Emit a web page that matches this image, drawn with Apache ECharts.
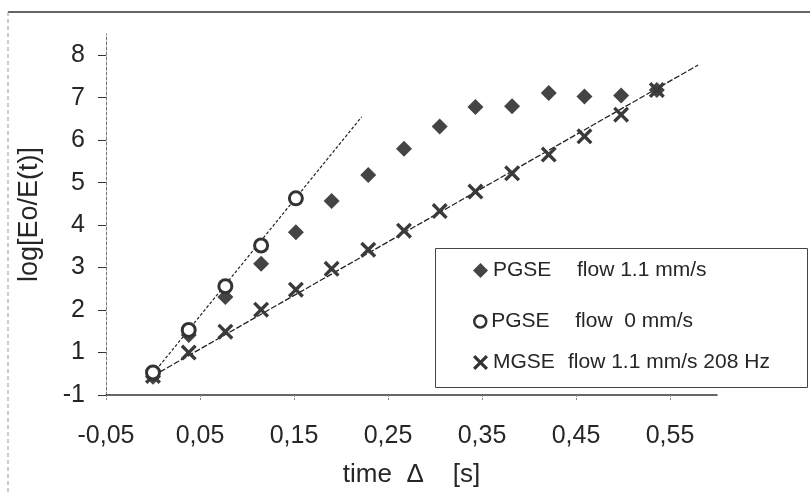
<!DOCTYPE html>
<html>
<head>
<meta charset="utf-8">
<script src="https://cdn.jsdelivr.net/npm/echarts@6/dist/echarts.min.js"></script>
<style>
  html, body { margin: 0; padding: 0; background: #fff; }
  #chart { width: 810px; height: 493px; }
</style>
</head>
<body>
<div id="chart"></div>
<script>
// Echo attenuation versus diffusion time Δ
const deltaTimes      = [0, 0.038, 0.077, 0.115, 0.152, 0.190, 0.229, 0.267, 0.305, 0.343, 0.382, 0.421, 0.459, 0.498, 0.536];
const pgseFlowValues  = [0.43, 1.41, 2.31, 3.09, 3.83, 4.57, 5.18, 5.80, 6.32, 6.78, 6.80, 7.11, 7.03, 7.05, 7.18];
const pgseStillTimes  = [0, 0.038, 0.077, 0.115, 0.152];
const pgseStillValues = [0.53, 1.53, 2.56, 3.52, 4.63];
const mgseValues      = [0.45, 1.00, 1.49, 2.01, 2.48, 2.97, 3.42, 3.87, 4.33, 4.79, 5.22, 5.66, 6.09, 6.60, 7.18];

// straight-line fits (end points)
const fitStill = [[0, 0.50], [0.222, 6.55]];
const fitMgse  = [[0, 0.45], [0.580, 7.77]];

const xTickValues = [-0.05, 0.05, 0.15, 0.25, 0.35, 0.45, 0.55];
const xTickLabels = ['-0,05', '0,05', '0,15', '0,25', '0,35', '0,45', '0,55'];
const yTickValues = [0, 1, 2, 3, 4, 5, 6, 7, 8];
const yTickLabels = ['-1', '1', '2', '3', '4', '5', '6', '7', '8'];

const seriesNames = ['PGSE flow 1.1 mm/s', 'PGSE flow  0 mm/s', 'MGSE flow 1.1 mm/s 208 Hz'];

const FONT = "'Liberation Sans', Arial, sans-serif";
const INK = '#262626';
const MARK = '#444';
const CROSS = 'path://M0,1.5 L1.5,0 L5,3.5 L8.5,0 L10,1.5 L6.5,5 L10,8.5 L8.5,10 L5,6.5 L1.5,10 L0,8.5 L3.5,5 Z';

const zip = (xs, ys) => xs.map((x, i) => [x, ys[i]]);

function legendRow(name, top, icon, size, itemStyle, labelWidth) {
  return {
    show: true,
    orient: 'vertical',
    left: 473,
    top: top,
    padding: 0,
    itemWidth: size,
    itemHeight: size,
    selectedMode: false,
    data: [{ name: name, icon: icon, itemStyle: itemStyle }],
    formatter: function (n) {
      const k = n.indexOf(' ');
      return '{a|' + n.slice(0, k) + '}{b|' + n.slice(k + 1) + '}';
    },
    textStyle: {
      fontFamily: FONT,
      fontSize: 21,
      color: INK,
      rich: {
        a: { fontFamily: FONT, fontSize: 21, color: INK, width: labelWidth },
        b: { fontFamily: FONT, fontSize: 21, color: INK }
      }
    }
  };
}

const chart = echarts.init(document.getElementById('chart'), null, { renderer: 'canvas' });

chart.setOption({
  animation: false,
  backgroundColor: '#fff',
  grid: { left: 106, right: 93, top: 34, bottom: 96, containLabel: false },
  xAxis: {
    type: 'value',
    min: -0.05,
    max: 0.6,
    name: 'time  Δ    [s]',
    nameLocation: 'middle',
    nameGap: 67,
    nameTextStyle: { fontFamily: FONT, fontSize: 26, color: INK },
    axisLine: { show: true, onZero: false, lineStyle: { color: '#333', width: 1.5 } },
    axisTick: { show: true, length: 6, customValues: xTickValues, lineStyle: { color: '#888', width: 1, type: [2, 1] } },
    axisLabel: {
      margin: 29,
      fontFamily: FONT, fontSize: 25, color: INK,
      customValues: xTickValues,
      formatter: function (v) {
        const i = xTickValues.findIndex(t => Math.abs(t - v) < 1e-6);
        return i < 0 ? '' : xTickLabels[i];
      }
    },
    splitLine: { show: false }
  },
  yAxis: {
    type: 'value',
    min: 0,
    max: 8.5,
    name: 'log[Eo/E(t)]',
    nameLocation: 'middle',
    nameGap: 63,
    nameTextStyle: { fontFamily: FONT, fontSize: 27, color: INK },
    axisLine: { show: true, onZero: false, lineStyle: { color: '#777', width: 1, type: [3, 2] } },
    axisTick: { show: true, length: 8, customValues: yTickValues, lineStyle: { color: '#333', width: 1 } },
    axisLabel: {
      margin: 21,
      fontFamily: FONT, fontSize: 25, color: INK,
      customValues: yTickValues,
      formatter: function (v) {
        const i = yTickValues.indexOf(Math.round(v));
        return i < 0 ? '' : yTickLabels[i];
      }
    },
    splitLine: { show: false }
  },
  legend: [
    legendRow(seriesNames[0], 260, 'diamond', 15, { color: MARK }, 84),
    legendRow(seriesNames[1], 311, 'circle', 12, { color: '#fff', borderColor: '#333', borderWidth: 2.5 }, 84),
    legendRow(seriesNames[2], 352, CROSS, 15, { color: '#333' }, 75)
  ],
  graphic: [
    // page frame
    { type: 'line', shape: { x1: 8, y1: 12, x2: 810, y2: 12 }, style: { stroke: '#333', lineWidth: 1.5 }, silent: true },
    { type: 'line', shape: { x1: 8, y1: 12, x2: 8, y2: 493 }, style: { stroke: '#999', lineWidth: 1, lineDash: [4, 3] }, silent: true },
    // legend box
    { type: 'rect', shape: { x: 435.5, y: 248.5, width: 372, height: 139 }, style: { fill: '#fff', stroke: '#444', lineWidth: 1 }, silent: true, z: 1 }
  ],
  series: [
    {
      name: 'fit-still',
      type: 'line',
      data: fitStill,
      showSymbol: false,
      silent: true,
      z: 1,
      lineStyle: { color: '#222', width: 1.2, type: [3, 2] }
    },
    {
      name: 'fit-mgse',
      type: 'line',
      data: fitMgse,
      showSymbol: false,
      silent: true,
      z: 1,
      lineStyle: { color: '#222', width: 1.3, type: [6, 2] }
    },
    {
      name: seriesNames[0],
      type: 'scatter',
      symbol: 'diamond',
      symbolSize: 16,
      itemStyle: { color: MARK, opacity: 1 },
      data: zip(deltaTimes, pgseFlowValues),
      z: 3
    },
    {
      name: seriesNames[1],
      type: 'scatter',
      symbol: 'circle',
      symbolSize: 13,
      itemStyle: { color: '#fff', borderColor: '#333', borderWidth: 3, opacity: 1 },
      data: zip(pgseStillTimes, pgseStillValues),
      z: 4
    },
    {
      name: seriesNames[2],
      type: 'scatter',
      symbol: CROSS,
      symbolSize: 16,
      itemStyle: { color: '#3a3a3a', opacity: 1 },
      data: zip(deltaTimes, mgseValues),
      z: 3
    }
  ]
});
</script>
</body>
</html>
